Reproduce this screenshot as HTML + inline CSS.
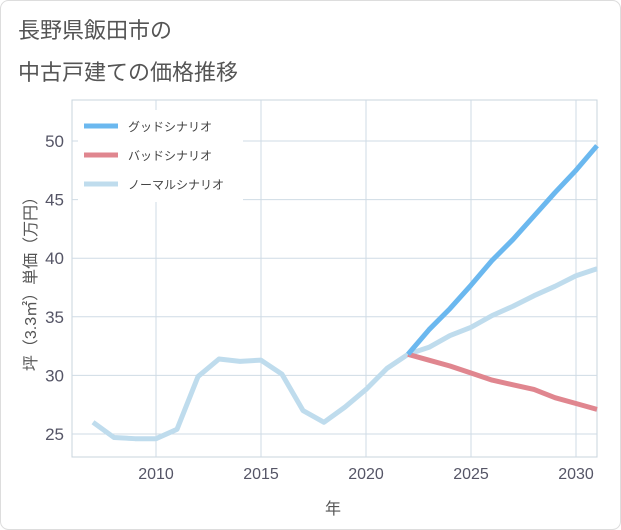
<!DOCTYPE html>
<html><head><meta charset="utf-8"><style>
body{margin:0;background:#fff;}
svg{display:block;font-family:"Liberation Sans","Noto Sans CJK JP",sans-serif;}
</style></head><body>
<svg width="621" height="530">
<rect x="0.5" y="0.5" width="620" height="529" rx="8" fill="#fff" stroke="#ddd"/>
<text x="18" y="38" font-size="22" fill="#555">長野県飯田市の</text>
<text x="18" y="80" font-size="22" fill="#555">中古戸建ての価格推移</text>
<g id="grid"></g>
<g id="series"></g>
<g id="axes"></g>
<g>
<rect x="78" y="110" width="165" height="92" fill="#fff"/>
<line x1="84" y1="126" x2="118" y2="126" stroke="#6bb8ef" stroke-width="5"/>
<text x="128" y="131" font-size="12" fill="#444">グッドシナリオ</text>
<line x1="84" y1="155" x2="118" y2="155" stroke="#e0868f" stroke-width="5"/>
<text x="128" y="160" font-size="12" fill="#444">バッドシナリオ</text>
<line x1="84" y1="184" x2="118" y2="184" stroke="#bfdced" stroke-width="5"/>
<text x="128" y="189" font-size="12" fill="#444">ノーマルシナリオ</text>
</g>
<text transform="translate(36,280) rotate(-90)" text-anchor="middle" font-size="16" fill="#555">坪（3.3㎡）単価（万円）</text>
<text x="333" y="514" text-anchor="middle" font-size="16" fill="#555">年</text>
</svg>
<script>
const normalYears=[2007,2008,2009,2010,2011,2012,2013,2014,2015,2016,2017,2018,2019,2020,2021,2022,2023,2024,2025,2026,2027,2028,2029,2030,2031];
const normalValues=[26.0,24.7,24.6,24.6,25.4,29.9,31.4,31.2,31.3,30.1,27.0,26.0,27.3,28.8,30.6,31.8,32.4,33.4,34.1,35.1,35.9,36.8,37.6,38.5,39.1];
const scenarioYears=[2022,2023,2024,2025,2026,2027,2028,2029,2030,2031];
const goodValues=[31.8,33.9,35.7,37.7,39.8,41.6,43.6,45.6,47.5,49.6];
const badValues=[31.8,31.3,30.8,30.2,29.6,29.2,28.8,28.1,27.6,27.1];
const xTicks=[2010,2015,2020,2025,2030];
const yTicks=[25,30,35,40,45,50];
const L=72,R=597,T=100,B=457;
const xs=y=>156+(y-2010)*21;
const ys=v=>141+(50-v)*11.72;
const NS='http://www.w3.org/2000/svg';
function mk(tag,parent,attrs){const e=document.createElementNS(NS,tag);for(const k in attrs)e.setAttribute(k,attrs[k]);document.getElementById(parent).appendChild(e);return e;}
const bg=mk('rect','grid',{x:L,y:T,width:R-L,height:B-T,fill:'#fff',stroke:'#c8d4de'});


for(let yr=2007;yr<=2031;yr++){if(xTicks.includes(yr)){const g=mk('line','grid',{x1:xs(yr),x2:xs(yr),y1:T,y2:B,stroke:'#cfdbe5'});

}}
yTicks.forEach(v=>{const g=mk('line','grid',{x1:L,x2:R,y1:ys(v),y2:ys(v),stroke:'#cfdbe5'});


const t=mk('text','axes',{x:L-8,y:ys(v)+6,'text-anchor':'end','font-size':17,fill:'#556'});t.textContent=v;

});
xTicks.forEach(v=>{const t=mk('text','axes',{x:xs(v),y:B+22,'text-anchor':'middle','font-size':16,fill:'#556'});t.textContent=v;

});
function line(yrs,vals,color,name){const p=mk('polyline','series',{points:yrs.map((y,i)=>xs(y)+','+ys(vals[i])).join(' '),fill:'none',stroke:color,'stroke-width':5,'stroke-linejoin':'round'});

}
line(normalYears,normalValues,'#bfdced','normal-scenario-line');
line(scenarioYears,badValues,'#e0868f','bad-scenario-line');
line(scenarioYears,goodValues,'#6bb8ef','good-scenario-line');
</script>
</body></html>
